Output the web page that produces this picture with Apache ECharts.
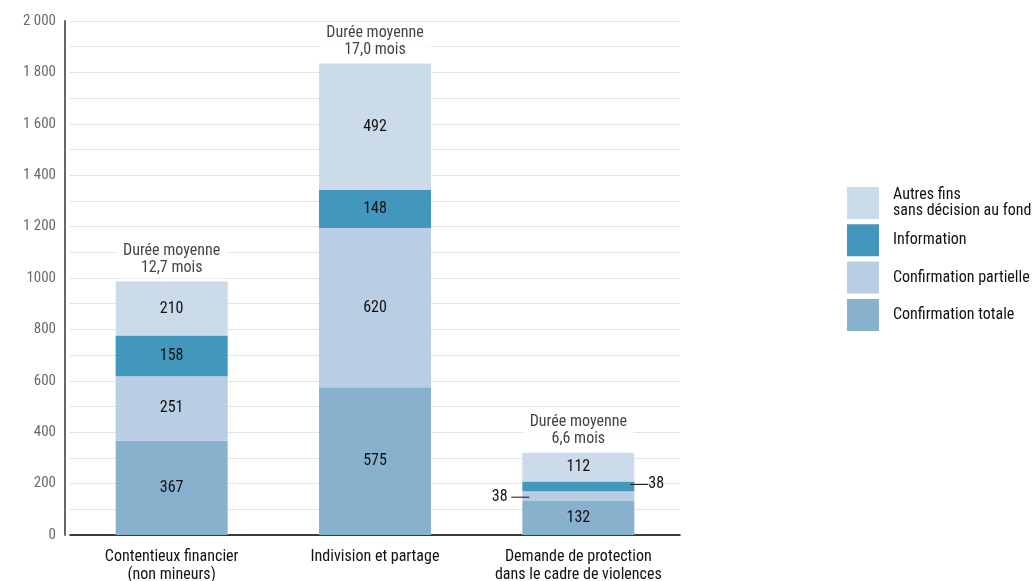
<!DOCTYPE html>
<html><head><meta charset="utf-8">
<script src="https://cdn.jsdelivr.net/npm/echarts@6/dist/echarts.min.js"></script>
<style>html,body{margin:0;padding:0;background:#fff}#c{width:1034px;height:581px}</style>
</head><body><div id="c"></div>
<script>
var categories = ['Contentieux financier\n(non mineurs)', 'Indivision et partage', 'Demande de protection\ndans le cadre de violences'];
var confirmationTotale = [367, 575, 132];
var confirmationPartielle = [251, 620, 38];
var information = [158, 148, 38];
var autresFins = [210, 492, 112];
var dureeMoyenne = ['12,7', '17,0', '6,6'];
var seriesNames = ['Confirmation totale', 'Confirmation partielle', 'Information', 'Autres fins\nsans décision au fond'];
var tickValues = [0, 200, 400, 600, 800, 1000, 1200, 1400, 1600, 1800, 2000];
var tickLabels = ['0', '200', '400', '600', '800', '1000', '1 200', '1 400', '1 600', '1 800', '2 000'];

var FONT = "'Roboto Condensed', 'Liberation Sans Narrow', Roboto, sans-serif";
var colors = ['#87b1cc', '#b9cee2', '#4396bc', '#cbdbea'];
var totals = categories.map(function (c, i) {
  return confirmationTotale[i] + confirmationPartielle[i] + information[i] + autresFins[i];
});

function mkData(arr, special) {
  return arr.map(function (v, i) {
    if (special && special[i]) return { value: v, label: special[i] };
    return v;
  });
}

var baseLabel = { show: true, position: 'inside', color: '#111', fontSize: 16, fontFamily: FONT };
var dashRich = { l: { width: 18, height: 1, backgroundColor: '#111' } };

var chart = echarts.init(document.getElementById('c'));
chart.setOption({
  animation: false,
  textStyle: { fontFamily: FONT },
  grid: { left: 70, top: 21, width: 610, height: 514, containLabel: false, outerBoundsMode: 'none' },
  legend: {
    orient: 'vertical', left: 847, top: 187, padding: 0,
    itemWidth: 32, itemHeight: 32, itemGap: 5.3,
    icon: 'rect',
    data: [seriesNames[3], seriesNames[2], seriesNames[1], seriesNames[0]],
    textStyle: { fontSize: 16, color: '#111', fontFamily: FONT, lineHeight: 16, padding: [0, 0, 0, 9] },
    selectedMode: false
  },
  xAxis: {
    type: 'category', data: categories,
    axisLine: { show: true, lineStyle: { color: '#000', width: 1.5 } },
    axisTick: { show: false },
    axisLabel: { fontSize: 16, color: '#111', fontFamily: FONT, lineHeight: 18, margin: 13, interval: 0 }
  },
  yAxis: {
    type: 'value', min: 0, max: 2000, interval: 100, offset: 5,
    axisLine: { show: true, lineStyle: { color: '#666', width: 2 } },
    axisTick: { show: false },
    splitLine: { show: true, lineStyle: { color: '#e3e3e3', width: 1 } },
    axisLabel: {
      fontSize: 15, color: '#6a6a6a', fontFamily: FONT, margin: 9,
      formatter: function (v) {
        var k = tickValues.indexOf(v);
        return k >= 0 ? tickLabels[k] : '';
      }
    }
  },
  series: [
    { name: seriesNames[0], type: 'bar', stack: 's', barWidth: 112, itemStyle: { color: colors[0] },
      label: baseLabel, data: mkData(confirmationTotale) },
    { name: seriesNames[1], type: 'bar', stack: 's', barWidth: 112, itemStyle: { color: colors[1] },
      label: baseLabel,
      data: mkData(confirmationPartielle, [null, null, { show: true, position: 'left', distance: -7, color: '#111', fontSize: 16, fontFamily: FONT, formatter: '{c} {l|}', rich: dashRich, offset: [0, 1] }]) },
    { name: seriesNames[2], type: 'bar', stack: 's', barWidth: 112, itemStyle: { color: colors[2] },
      label: baseLabel,
      data: mkData(information, [null, null, { show: true, position: 'right', distance: -4, color: '#111', fontSize: 16, fontFamily: FONT, formatter: '{l|}{c}', rich: dashRich, offset: [0, -2] }]) },
    { name: seriesNames[3], type: 'bar', stack: 's', barWidth: 112, itemStyle: { color: colors[3] },
      label: baseLabel, data: mkData(autresFins) },
    { name: 'duree', type: 'scatter', symbolSize: 0, silent: true,
      data: totals,
      label: {
        show: true, position: 'top', distance: 3,
        formatter: function (p) { return 'Durée moyenne\n' + dureeMoyenne[p.dataIndex] + ' mois'; },
        backgroundColor: '#fff', width: 112, align: 'center',
        padding: [2, 0, 2, 0], lineHeight: 17,
        fontSize: 16, color: '#111', fontFamily: FONT
      } }
  ]
});
</script></body></html>
